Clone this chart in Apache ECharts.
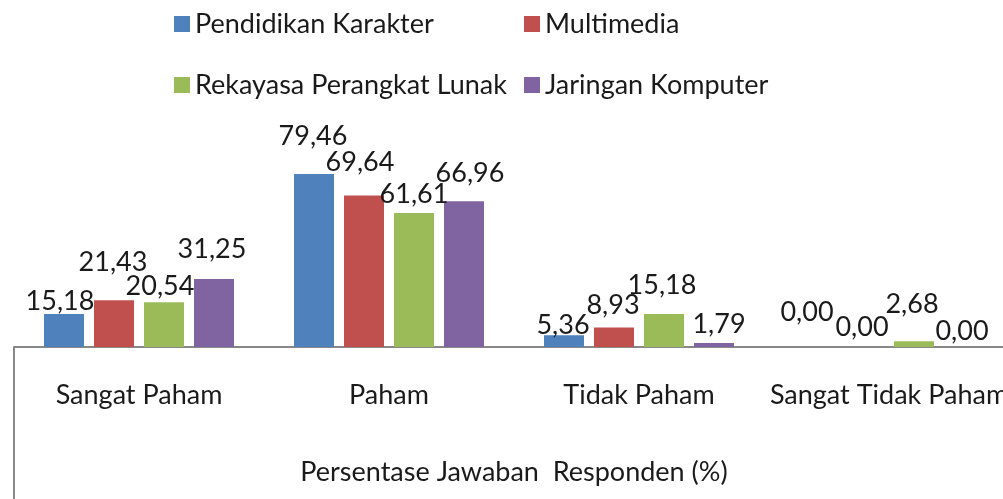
<!DOCTYPE html>
<html>
<head>
<meta charset="utf-8">
<script src="https://cdn.jsdelivr.net/npm/echarts@6/dist/echarts.min.js"></script>
<style>
  html, body { margin: 0; padding: 0; background: #fff; }
  #main { width: 1003px; height: 499px; }
</style>
</head>
<body>
<div id="main"></div>
<script>
// data
var categories = ['Sangat Paham', 'Paham', 'Tidak Paham', 'Sangat Tidak Paham'];
var seriesNames = ['Pendidikan Karakter', 'Multimedia', 'Rekayasa Perangkat Lunak', 'Jaringan Komputer'];
var pendidikanKarakter = [15.18, 79.46, 5.36, 0.00];
var multimedia = [21.43, 69.64, 8.93, 0.00];
var rekayasaPerangkatLunak = [20.54, 61.61, 15.18, 2.68];
var jaringanKomputer = [31.25, 66.96, 1.79, 0.00];
var axisTitle = 'Persentase Jawaban  Responden (%)';

var allValues = [pendidikanKarakter, multimedia, rekayasaPerangkatLunak, jaringanKomputer];
var colors = ['#4F81BD', '#C0504D', '#9BBB59', '#8064A2'];
var fontFam = 'Lato, "Open Sans", sans-serif';

// label shifts like excel did (dx, dy)
var labelShift = [
    [[-4, 0], [-1, -25], [-1, 3], [-7, -22]],
    [[-1, -25], [-4, -20], [-1, -9], [-2, -7]],
    [[-4, -3], [0, -6], [-2, -16], [-2, -24]],
    [[-2, -17], [6, -15], [5, -6], [-2, -3]]
];

var myChart = echarts.init(document.getElementById('main'));

var seriesData = [];
for (var i = 0; i < seriesNames.length; i++) {
    var items = [];
    for (var j = 0; j < categories.length; j++) {
        items.push({
            value: allValues[i][j],
            label: { offset: labelShift[i][j] }
        });
    }
    seriesData.push({
        name: seriesNames[i],
        type: 'bar',
        barWidth: 40,
        barGap: '25%',
        itemStyle: { color: colors[i] },
        label: {
            show: true,
            position: 'top',
            distance: 0,
            color: '#1a1a1a',
            fontFamily: fontFam,
            fontSize: 27,
            lineHeight: 26,
            formatter: function (p) {
                return p.value.toFixed(2).replace('.', ',');
            }
        },
        data: items
    });
}

var legendText = { color: '#1a1a1a', fontFamily: fontFam, fontSize: 27, lineHeight: 30 };

myChart.setOption({
    animation: false,
    legend: [{
        orient: 'vertical',
        left: 169,
        top: 4,
        itemWidth: 16,
        itemHeight: 16,
        itemGap: 31,
        icon: 'rect',
        textStyle: legendText,
        data: [seriesNames[0], seriesNames[2]]
    }, {
        orient: 'vertical',
        left: 519,
        top: 4,
        itemWidth: 16,
        itemHeight: 16,
        itemGap: 31,
        icon: 'rect',
        textStyle: legendText,
        data: [seriesNames[1], seriesNames[3]]
    }],
    grid: {
        left: 14,
        width: 1000,
        top: 129.3,
        bottom: 152,
        containLabel: false,
        outerBoundsMode: 'none'
    },
    xAxis: {
        type: 'category',
        data: categories,
        name: axisTitle,
        nameLocation: 'middle',
        nameGap: 112,
        nameTextStyle: { color: '#1a1a1a', fontFamily: fontFam, fontSize: 27 },
        axisLine: { lineStyle: { color: '#888', width: 2 } },
        axisTick: {
            show: true,
            length: 160,
            lineStyle: { color: '#888', width: 2 },
            interval: function (index) { return index === 0; }
        },
        axisLabel: {
            interval: 0,
            margin: 35,
            color: '#1a1a1a',
            fontFamily: fontFam,
            fontSize: 27
        }
    },
    yAxis: {
        type: 'value',
        min: 0,
        max: 100,
        show: false
    },
    series: seriesData
});
</script>
</body>
</html>
